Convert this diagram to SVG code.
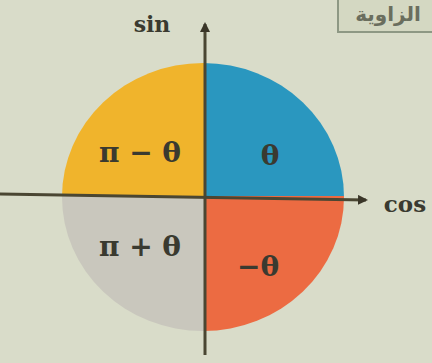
<svg xmlns="http://www.w3.org/2000/svg" width="432" height="363" viewBox="0 0 432 363">
<defs>
<style>
.lbl{font-family:"DejaVu Serif","Liberation Serif",serif;font-weight:bold;fill:#3a3a30}
.ax{stroke:#4a4632;stroke-width:3;fill:none}
</style>
<marker id="ah" markerWidth="10" markerHeight="10" refX="8" refY="5" orient="auto" markerUnits="userSpaceOnUse">
<path d="M0,0 L10,5 L0,10 z" fill="#3a3628"/>
</marker>
<clipPath id="c"><ellipse cx="203" cy="197" rx="141" ry="134"/></clipPath>
</defs>
<rect width="432" height="363" fill="#d9dcc9"/>
<g id="title">
<rect x="338" y="-4" width="100" height="36" fill="#d4d8c2" stroke="#8e9884" stroke-width="2"/>
<text x="388" y="21" text-anchor="middle" font-family="'DejaVu Sans',sans-serif" font-size="20" font-weight="bold" fill="#6a6e5e">الزاوية</text>
</g>
<g id="circle" clip-path="url(#c)">
<rect x="60" y="60" width="144" height="136" fill="#f0b42c"/>
<rect x="204" y="60" width="142" height="136" fill="#2a97bf"/>
<rect x="60" y="196" width="144" height="140" fill="#c9c7bd"/>
<rect x="204" y="196" width="142" height="140" fill="#ec6b42"/>
</g>
<g id="axes">
<line class="ax" x1="0" y1="194" x2="366" y2="200" marker-end="url(#ah)"/>
<line class="ax" x1="205" y1="355" x2="205" y2="24" marker-end="url(#ah)"/>
</g>
<g id="labels">
<text class="lbl" x="152" y="32" text-anchor="middle" font-size="22">sin</text>
<text class="lbl" x="405" y="212" text-anchor="middle" font-size="23" font-weight="normal" font-family="'DejaVu Sans',sans-serif">cos</text>
<text class="lbl" x="140" y="162" text-anchor="middle" font-size="28">π − θ</text>
<text class="lbl" x="270" y="165" text-anchor="middle" font-size="28">θ</text>
<text class="lbl" x="140" y="256" text-anchor="middle" font-size="28">π + θ</text>
<text class="lbl" x="258" y="276" text-anchor="middle" font-size="28">−θ</text>
</g>
</svg>
